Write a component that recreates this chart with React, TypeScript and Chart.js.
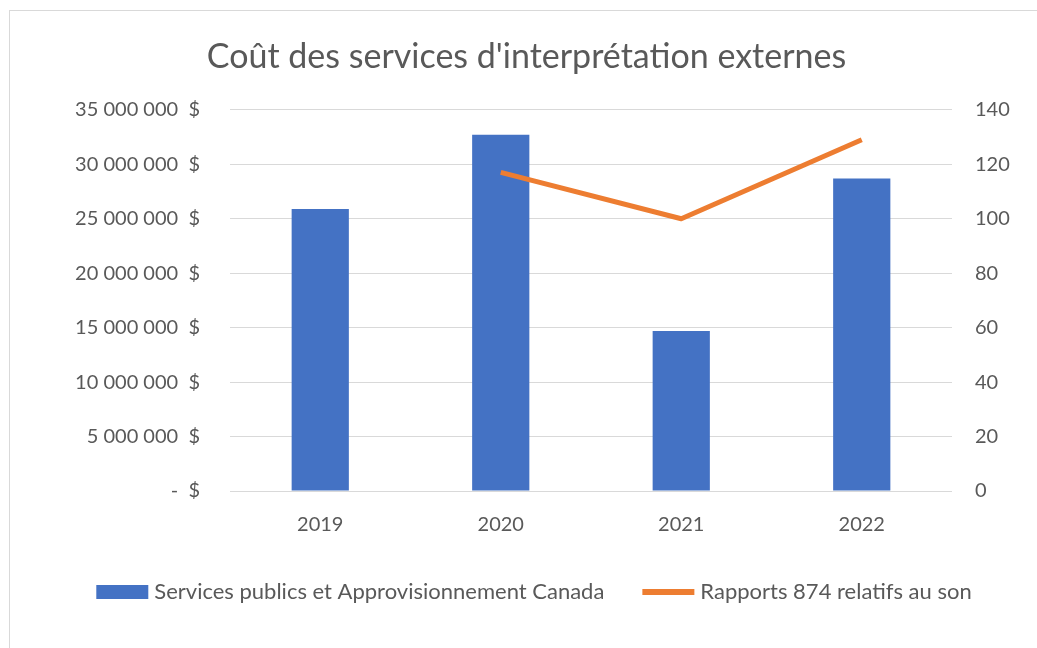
import React, { useEffect, useRef } from "react";
import { Chart, registerables } from "chart.js";

Chart.register(...registerables);

const title = "Coût des services d'interprétation externes";
const categories = ["2019", "2020", "2021", "2022"];
const costLabel = "Services publics et Approvisionnement Canada";
const costValues = [25900000, 32700000, 14700000, 28700000];
const reportLabel = "Rapports 874 relatifs au son";
const reportValues = [null, 117, 100, 129];
const costTicks = { min: 0, max: 35000000, step: 5000000 };
const reportTicks = { min: 0, max: 140, step: 20 };

const FONT = "Lato, 'Open Sans', sans-serif";
const TEXT = "#595959";
const GRID = "#D9D9D9";
const BLUE = "#4472C4";
const ORANGE = "#ED7D31";

function fmtMoney(v: number): string {
  if (v === 0) return "-  $";
  const s = Math.round(v).toString().replace(/\B(?=(\d{3})+(?!\d))/g, " ");
  return s + "  $";
}

const legendPlugin = {
  id: "customLegend",
  afterDraw(chart: any) {
    const ctx = chart.ctx;
    const size = 22;
    ctx.save();
    ctx.font = `${size}px ${FONT}`;
    const items = chart.data.datasets.map((d: any) => ({
      label: d.label,
      color: d.type === "line" ? d.borderColor : d.backgroundColor,
      line: d.type === "line",
      w: ctx.measureText(d.label).width,
    }));
    const sw = 52, gap = 6, spacing = 38;
    let total = 0;
    items.forEach((it: any, i: number) => {
      total += sw + gap + it.w + (i > 0 ? spacing : 0);
    });
    const cx = 534;
    const cy = 592;
    let x = cx - total / 2;
    items.forEach((it: any, i: number) => {
      if (i > 0) x += spacing;
      if (it.line) {
        ctx.strokeStyle = it.color;
        ctx.lineWidth = 6;
        ctx.beginPath();
        ctx.moveTo(x, cy);
        ctx.lineTo(x + sw, cy);
        ctx.stroke();
      } else {
        ctx.fillStyle = it.color;
        ctx.fillRect(x, cy - 7, sw, 14);
      }
      x += sw + gap;
      ctx.fillStyle = TEXT;
      ctx.textBaseline = "middle";
      ctx.textAlign = "left";
      ctx.fillText(it.label, x, cy);
      x += it.w;
    });
    ctx.restore();
  },
};

export default function App() {
  const ref = useRef<HTMLCanvasElement | null>(null);

  useEffect(() => {
    if (!ref.current) return;
    const chart = new Chart(ref.current, {
      type: "bar",
      data: {
        labels: categories,
        datasets: [
          {
            type: "bar" as any,
            label: costLabel,
            data: costValues,
            yAxisID: "y",
            backgroundColor: BLUE,
            categoryPercentage: 1,
            barPercentage: 0.317,
            order: 1,
          } as any,
          {
            type: "line" as any,
            label: reportLabel,
            data: reportValues as any,
            yAxisID: "y1",
            borderColor: ORANGE,
            backgroundColor: ORANGE,
            borderWidth: 5,
            pointRadius: 0,
            borderCapStyle: "butt",
            borderJoinStyle: "round",
            order: 0,
          } as any,
        ],
      },
      options: {
        responsive: false,
        animation: false,
        devicePixelRatio: 1,
        layout: { padding: { left: 16, right: 0, top: 0, bottom: 0 } },
        plugins: {
          legend: { display: false },
          tooltip: { enabled: false },
          title: {
            display: true,
            text: title,
            color: TEXT,
            font: { family: FONT, size: 34, weight: "normal" as any, lineHeight: 1.2 },
            padding: { top: 37, bottom: 32 },
          },
        },
        scales: {
          x: {
            type: "category",
            offset: true,
            grid: { display: false, drawTicks: false },
            border: { display: false },
            ticks: { color: TEXT, font: { family: FONT, size: 20 }, padding: 22 },
            afterFit(scale: any) {
              scale.height = 157;
            },
          },
          y: {
            position: "left",
            min: costTicks.min,
            max: costTicks.max,
            grid: { color: GRID, lineWidth: 1, drawTicks: false },
            border: { display: false },
            ticks: {
              stepSize: costTicks.step,
              color: TEXT,
              font: { family: FONT, size: 20 },
              padding: 30,
              callback: (v: any) => fmtMoney(Number(v)),
            },
            afterFit(scale: any) {
              scale.width = 214;
            },
          },
          y1: {
            position: "right",
            min: reportTicks.min,
            max: reportTicks.max,
            grid: { drawOnChartArea: false, drawTicks: false },
            border: { display: false },
            ticks: {
              stepSize: reportTicks.step,
              color: TEXT,
              font: { family: FONT, size: 20 },
              padding: 23,
            },
            afterFit(scale: any) {
              scale.width = 85;
            },
          },
        },
      },
      plugins: [legendPlugin],
    });
    return () => chart.destroy();
  }, []);

  return (
    <div style={{ position: "absolute", left: 0, top: 0, width: 1037, height: 648, overflow: "hidden", background: "#fff" }}>
      <canvas ref={ref} width={1037} height={648} style={{ position: "absolute", left: 0, top: 0, width: 1037, height: 648 }} />
      <div style={{ position: "absolute", left: 9, top: 10, width: 1100, height: 700, border: `1px solid ${GRID}`, pointerEvents: "none", boxSizing: "border-box" }} />
    </div>
  );
}
